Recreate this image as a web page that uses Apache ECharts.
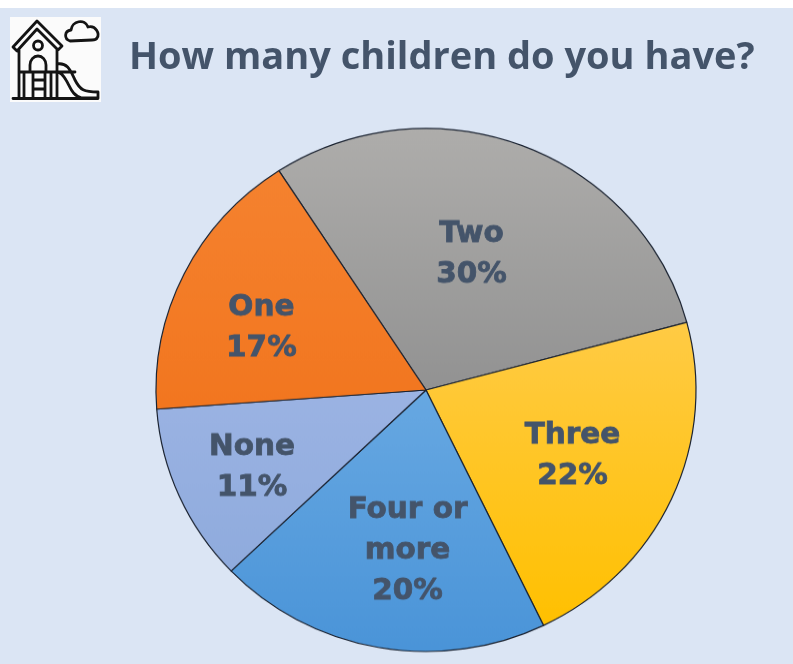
<!DOCTYPE html>
<html>
<head>
<meta charset="utf-8">
<title>How many children do you have?</title>
<style>
  html, body { margin: 0; padding: 0; width: 793px; height: 664px; overflow: hidden; background: #fff; }
  #page { position: absolute; left: 0; top: 0; width: 793px; height: 664px; }
  /* The pie is slightly flattened vertically, so it lives on its own layer */
  #pie { position: absolute; left: 0; top: 109.5px; width: 793px; height: 560px;
         transform: scaleY(0.9685); transform-origin: 50% 50%; }
</style>
<script src="https://cdn.jsdelivr.net/npm/echarts@6/dist/echarts.min.js"></script>
</head>
<body>
<div id="page"></div>
<div id="pie"></div>
<script>
const titleText = 'How many children do you have?';
const categories = ['Two', 'Three', 'Four or more', 'None', 'One'];
const shares = [30, 22, 20, 11, 17];
const labelNudges = [[-4, -11], [21, 11], [6, 31], [-48, 24], [-41, -2]];
const fillStops = [
  ['#aeadab', '#929292'],
  ['#ffcb45', '#ffc000'],
  ['#67a8e2', '#4a94d8'],
  ['#9bb3e3', '#8fabdd'],
  ['#f5822f', '#f2761f']
];
const ink = '#44546a';

// Playhouse icon, registered as a shape so the graphic component can draw it
const iconPath = [
  'M13 47 L37 21 L62 46 L58 50 L37 29 L17 51 Z',
  'M19 50 L19 98 M57 49 L57 98',
  'M13 98.500 L98 98.500',
  'M19 72 L75 72',
  'M33.500 45.500 a4.500 4.500 0 1 0 9 0 a4.500 4.500 0 1 0 -9 0',
  'M30 72 L30 65 A8 9 0 0 1 46 65 L46 72',
  'M33 72 L33 98 M45 72 L45 98 M33 80 L45 80 M33 89 L45 89',
  'M24 72 L24 98 M51 72 L51 98',
  'M57 64 C68 62 71 72 75 80 C80 90 84 92 98 92 L98 98 L82 98 C72 96 70 86 66 80 C63 75 61 72 57 72',
  'M57 86 L57 92',
  'M70 41 C64 39 64 31 71 30 C72 21 85 18 88 27 C96 25 100 34 97 38 C96 40 94 40 92 40 Z'
].join(' ');
echarts.graphic.registerShape('playhouse', echarts.graphic.extendPath(iconPath));

const page = echarts.init(document.getElementById('page'), null, { renderer: 'canvas' });
page.setOption({
  backgroundColor: '#dbe5f4',
  title: {
    text: titleText,
    left: 124,
    top: 34,
    textStyle: { fontFamily: 'Open Sans', fontWeight: 700, fontSize: 38, color: ink }
  },
  graphic: [
    { type: 'rect', shape: { x: 0, y: 0, width: 793, height: 8 }, style: { fill: '#ffffff' }, silent: true },
    { type: 'rect', shape: { x: 10, y: 17, width: 91, height: 85 }, style: { fill: '#fbfbfb' }, silent: true },
    { type: 'playhouse', style: { stroke: '#141414', lineWidth: 2.8, fill: 'none', lineJoin: 'round', lineCap: 'round' }, silent: true }
  ]
});

const pie = echarts.init(document.getElementById('pie'), null, { renderer: 'canvas' });
pie.setOption({
  backgroundColor: 'transparent',
  animation: false,
  series: [{
    type: 'pie',
    center: [426, 280],
    radius: [0, 270],
    startAngle: 123,
    clockwise: true,
    silent: true,
    data: categories.map(function (name, i) {
      return {
        name: name,
        value: shares[i],
        itemStyle: {
          color: new echarts.graphic.LinearGradient(0, 0, 0, 1, [
            { offset: 0, color: fillStops[i][0] },
            { offset: 1, color: fillStops[i][1] }
          ])
        },
        label: { offset: labelNudges[i] }
      };
    }),
    itemStyle: { borderColor: '#1a2230', borderWidth: 1.2 },
    label: {
      show: true,
      position: 'inside',
      formatter: function (p) {
        return p.name.replace('or ', 'or\n') + '\n' + p.value + '%';
      },
      fontFamily: 'DejaVu Sans',
      fontWeight: 700,
      fontSize: 29.5,
      lineHeight: 42,
      color: ink,
      textBorderColor: ink,
      textBorderWidth: 0.8,
      align: 'center'
    },
    labelLine: { show: false }
  }]
});
</script>
</body>
</html>
